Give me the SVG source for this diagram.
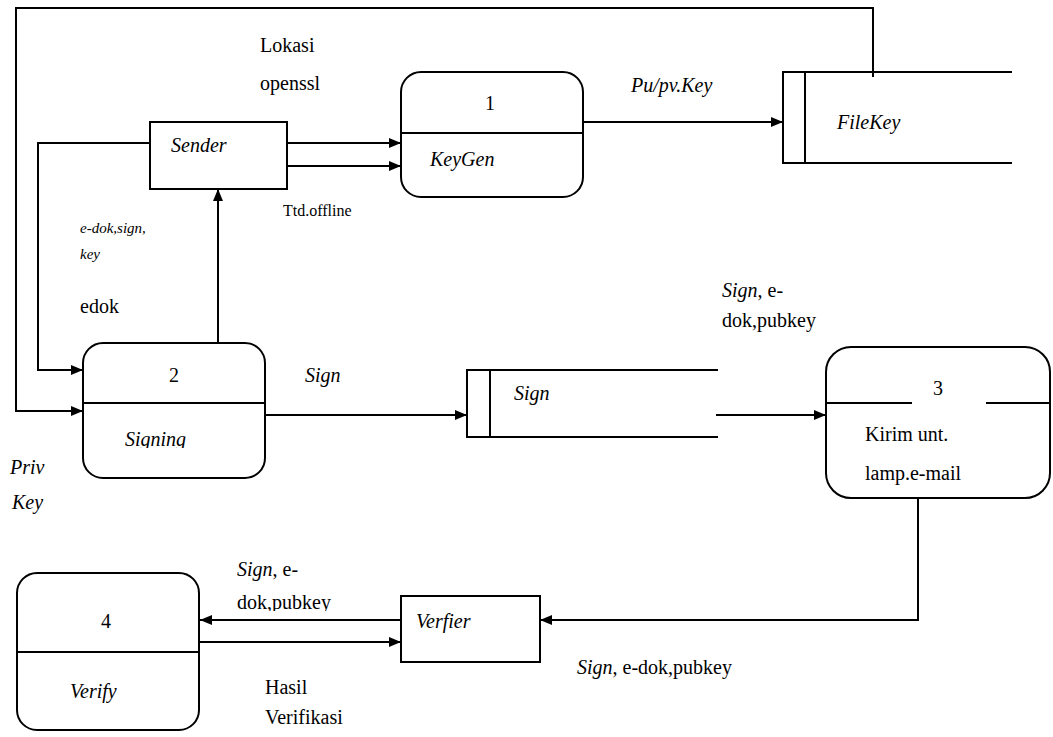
<svg xmlns="http://www.w3.org/2000/svg" width="1053" height="737" viewBox="0 0 1053 737">
  <defs>
    <marker id="arr" viewBox="0 0 12 10" refX="12" refY="5" markerWidth="12" markerHeight="10" markerUnits="userSpaceOnUse" orient="auto">
      <path d="M0,0 L12,5 L0,10 Z" fill="#000"/>
    </marker>
    <clipPath id="clipSigning"><rect x="90" y="410" width="170" height="38"/></clipPath>
    <clipPath id="clipPub"><rect x="230" y="585" width="150" height="26"/></clipPath>
  </defs>
  <style>
    .ln { fill: none; stroke: #000; stroke-width: 2; }
    .box { fill: #fff; stroke: #000; stroke-width: 2; }
    text { font-family: "Liberation Serif", Tinos, "Times New Roman", Times, "Noto Serif", "DejaVu Serif", serif; font-size: 20px; fill: #000; }
    .i { font-style: italic; }
    .s16 { font-size: 16px; }
    .s15 { font-size: 15px; }
  </style>
  <rect width="1053" height="737" fill="#fff"/>

  <!-- data flows -->
  <g id="connectors">
    <!-- private key path from FileKey back into Signing -->
    <polyline class="ln" points="873,77 873,8 16,8 16,411 83,411" marker-end="url(#arr)"/>
    <!-- Sender to Signing -->
    <polyline class="ln" points="150,143 38,143 38,370 83,370" marker-end="url(#arr)"/>
    <!-- Sender to KeyGen -->
    <line class="ln" x1="287" y1="143" x2="401" y2="143" marker-end="url(#arr)"/>
    <line class="ln" x1="287" y1="166" x2="401" y2="166" marker-end="url(#arr)"/>
    <!-- Signing to Sender -->
    <line class="ln" x1="218" y1="347" x2="218" y2="189" marker-end="url(#arr)"/>
    <!-- KeyGen to FileKey -->
    <line class="ln" x1="583" y1="122" x2="783" y2="122" marker-end="url(#arr)"/>
    <!-- Signing to Sign store -->
    <line class="ln" x1="265" y1="415" x2="467" y2="415" marker-end="url(#arr)"/>
    <!-- Sign store to Kirim -->
    <line class="ln" x1="716" y1="415" x2="826" y2="415" marker-end="url(#arr)"/>
    <!-- Kirim to Verfier -->
    <polyline class="ln" points="918,498 918,620 540,620" marker-end="url(#arr)"/>
    <!-- Verfier and Verify -->
    <line class="ln" x1="401" y1="620" x2="200" y2="620" marker-end="url(#arr)"/>
    <line class="ln" x1="200" y1="642" x2="401" y2="642" marker-end="url(#arr)"/>
  </g>

  <g id="sender">
    <rect class="box" x="150" y="122" width="137" height="67"/>
    <text class="i" x="171" y="152">Sender</text>
  </g>

  <g id="keygen">
    <rect class="box" x="401" y="72" width="182" height="125" rx="20"/>
    <line class="ln" x1="401" y1="133" x2="583" y2="133"/>
    <text x="485" y="110">1</text>
    <text class="i" x="430" y="166">KeyGen</text>
  </g>

  <g id="filekey">
    <polyline class="ln" points="1012,72 783,72 783,163 1012,163"/>
    <line class="ln" x1="805" y1="72" x2="805" y2="163"/>
    <text class="i" x="837" y="129">FileKey</text>
  </g>

  <g id="signing">
    <rect class="box" x="83" y="343" width="182" height="135" rx="20"/>
    <line class="ln" x1="83" y1="403" x2="265" y2="403"/>
    <text x="169" y="382">2</text>
    <text class="i" x="125" y="446" clip-path="url(#clipSigning)">Signing</text>
  </g>

  <g id="signstore">
    <polyline class="ln" points="718,370 467,370 467,437 718,437"/>
    <line class="ln" x1="490" y1="370" x2="490" y2="437"/>
    <text class="i" x="514" y="400">Sign</text>
  </g>

  <g id="kirim">
    <rect class="box" x="826" y="347" width="224" height="151" rx="25"/>
    <line class="ln" x1="826" y1="403" x2="912" y2="403"/>
    <line class="ln" x1="986" y1="403" x2="1050" y2="403"/>
    <text x="933" y="395">3</text>
    <text x="865" y="441">Kirim unt.</text>
    <text x="865" y="480">lamp.e-mail</text>
  </g>

  <g id="verfier">
    <rect class="box" x="401" y="596" width="139" height="66"/>
    <text class="i" x="416" y="628">Verfier</text>
  </g>

  <g id="verify">
    <rect class="box" x="17" y="573" width="182" height="157" rx="20"/>
    <line class="ln" x1="17" y1="652" x2="199" y2="652"/>
    <text x="101" y="628">4</text>
    <text class="i" x="70" y="698">Verify</text>
  </g>

  <!-- flow labels -->
  <g id="labels">
    <text x="260" y="52">Lokasi</text>
    <text x="260" y="90">openssl</text>
    <text class="i" x="631" y="92">Pu/pv.Key</text>
    <text class="s16" x="283" y="216">Ttd.offline</text>
    <text class="i s15" x="80" y="233">e-dok,sign,</text>
    <text class="i s15" x="80" y="259">key</text>
    <text x="80" y="313">edok</text>
    <text class="i" x="305" y="382">Sign</text>
    <text x="722" y="297"><tspan class="i">Sign</tspan>, e-</text>
    <text x="722" y="327">dok,pubkey</text>
    <text class="i" x="10" y="474">Priv</text>
    <text class="i" x="12" y="509">Key</text>
    <text x="237" y="576"><tspan class="i">Sign</tspan>, e-</text>
    <text x="237" y="609" clip-path="url(#clipPub)">dok,pubkey</text>
    <text x="265" y="694">Hasil</text>
    <text x="265" y="724">Verifikasi</text>
    <text x="577" y="674"><tspan class="i">Sign</tspan>, e-dok,pubkey</text>
  </g>
</svg>
